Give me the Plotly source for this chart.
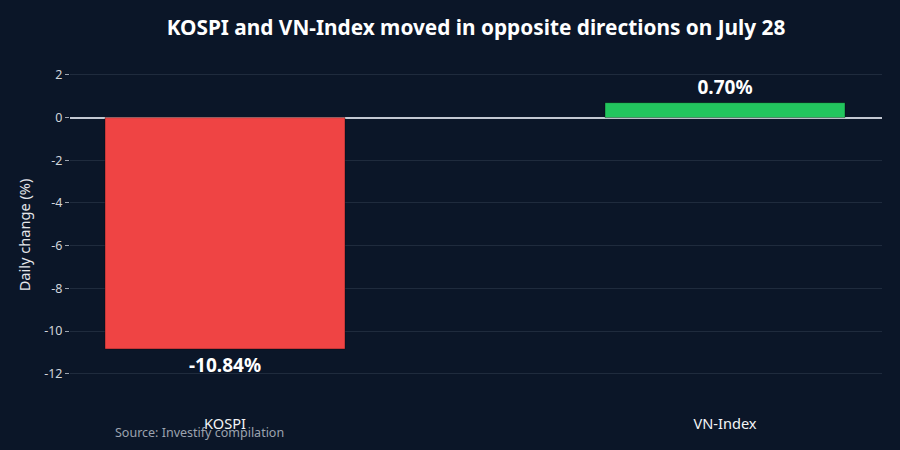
import plotly.graph_objects as go

categories = ["KOSPI", "VN-Index"]
values = [-10.84, 0.70]
labels = ["-10.84%", "0.70%"]
colors = ["#ef4444", "#22c55e"]
ytick_vals = [2, 0, -2, -4, -6, -8, -10, -12]
ytick_text = ["2", "0", "-2", "-4", "-6", "-8", "-10", "-12"]

bg = "#0b1628"
ff = "Noto Sans"

fig = go.Figure(go.Bar(
    x=categories, y=values, width=0.48,
    marker=dict(color=colors, line=dict(color="rgba(0,0,0,0.35)", width=1)),
    text=labels, textposition="outside", cliponaxis=False,
    textfont=dict(size=19, color="#ffffff", family=ff, weight="bold"),
))

fig.update_layout(
    width=900, height=450,
    paper_bgcolor=bg, plot_bgcolor=bg,
    margin=dict(l=70, r=18, t=60, b=40),
    font=dict(family=ff, color="#e5e7eb"),
    title=dict(text="<b>KOSPI and VN-Index moved in opposite directions on July 28</b>",
               x=0.5, xref="paper", xanchor="center", y=0.938, yanchor="middle",
               font=dict(size=20.8, color="#ffffff", family=ff)),
    showlegend=False,
    xaxis=dict(range=[-0.31, 1.314], showgrid=False, zeroline=False, showline=False,
               ticks="", ticklabelstandoff=3, tickfont=dict(size=14.6, color="#f3f4f6", family=ff)),
    yaxis=dict(range=[-13.7, 2.7], tickvals=ytick_vals, ticktext=ytick_text,
               showgrid=True, gridcolor="#1f2b3d", gridwidth=1,
               zeroline=True, zerolinecolor="#c3c8d2", zerolinewidth=1.5,
               ticks="outside", ticklen=4, tickcolor="#9ca3af",
               tickfont=dict(size=12.5, color="#d1d5db", family=ff),
               title=dict(text="Daily change (%)", font=dict(size=14.6, color="#e5e7eb", family=ff), standoff=10)),
    annotations=[dict(text="Source: Investify compilation", xref="paper", yref="paper",
                      x=0.053, y=-0.063, xanchor="left", yanchor="middle", showarrow=False,
                      font=dict(size=12.5, color="#9ca3af", family=ff))],
)

fig.write_html("out.html")
